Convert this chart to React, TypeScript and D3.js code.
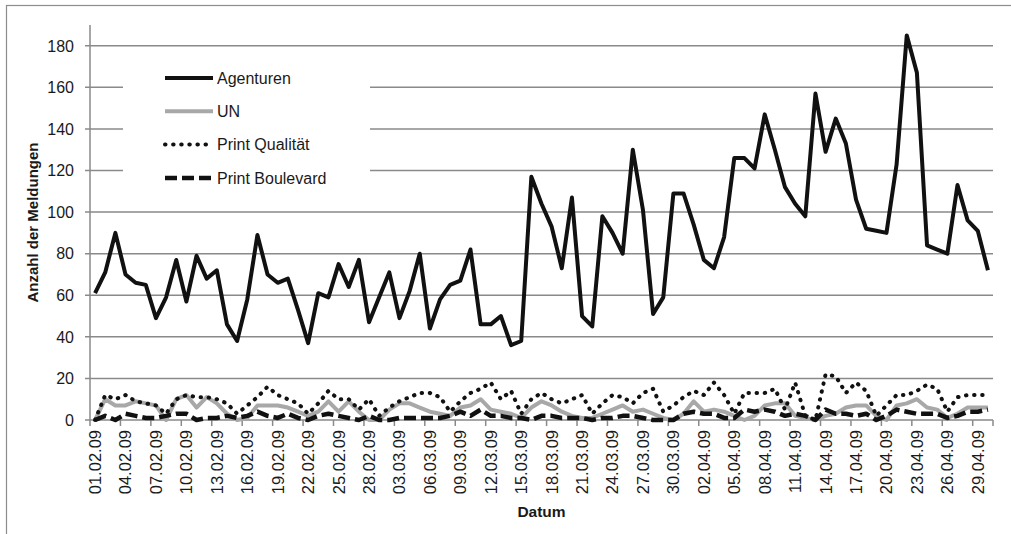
import React, { useEffect, useRef } from "react";
import * as d3 from "d3";

// Daily values 01.02.09 - 30.04.09 (89 days)
const startDate = new Date(2009, 1, 1);
const endDate = new Date(2009, 4, 1);

const agenturen = [
  61, 71, 90, 70, 66, 65, 49, 59, 77, 57, 79, 68, 72, 46, 38, 58, 89, 70, 66, 68,
  53, 37, 61, 59, 75, 64, 77, 47, 59, 71, 49, 62, 80, 44, 58, 65, 67, 82, 46, 46,
  50, 36, 38, 117, 104, 93, 73, 107, 50, 45, 98, 90, 80, 130, 101, 51, 59, 109, 109, 94,
  77, 73, 88, 126, 126, 121, 147, 130, 112, 104, 98, 157, 129, 145, 133, 106, 92, 91, 90, 123,
  185, 167, 84, 82, 80, 113, 96, 91, 72,
];

const un = [
  0, 10, 7, 7, 9, 8, 7, 0, 10, 12, 6, 11, 8, 3, 0,
  1, 7, 7, 7, 6, 4, 2, 4, 9, 4, 9, 4, 0, 0,
  5, 8, 8, 6, 4, 3, 2, 6, 7, 10, 5, 4, 3, 1, 6,
  9, 7, 4, 2, 1, 1, 3, 5, 7, 4, 5, 3, 1, 0, 3, 9,
  4, 5, 4, 2, 0, 2, 7, 8, 8, 2, 1, 0, 2, 3,
  6, 7, 7, 2, 0, 7, 8, 10, 6, 5, 1, 3, 6, 6, 6,
];

const printQualitaet = [
  0, 12, 10, 12, 9, 8, 7, 3, 10, 12, 11, 11, 10, 8, 3,
  7, 11, 16, 12, 10, 8, 3, 8, 14, 10, 10, 5, 10, 2,
  6, 9, 11, 13, 13, 11, 4, 9, 13, 15, 18, 10, 14, 3, 10,
  13, 10, 8, 10, 12, 3, 8, 12, 11, 8, 13, 15, 4, 7, 11, 14,
  12, 18, 12, 3, 13, 13, 13, 15, 5, 18, 2, 0, 22, 21,
  13, 18, 14, 2, 7, 12, 12, 14, 17, 15, 4, 11, 12, 12, 12,
];

const printBoulevard = [
  0, 2, 0, 3, 2, 1, 1, 2, 3, 3, 0, 1, 1, 2, 1,
  2, 4, 2, 1, 3, 1, 0, 2, 3, 2, 1, 0, 2, 0,
  0, 1, 1, 1, 1, 1, 2, 4, 2, 5, 2, 2, 1, 1, 0,
  2, 2, 1, 1, 1, 0, 1, 1, 2, 2, 1, 0, 0, 0, 3, 4,
  3, 3, 1, 1, 5, 4, 5, 4, 2, 3, 2, 0, 5, 3,
  3, 2, 3, 0, 2, 5, 4, 3, 3, 3, 1, 2, 4, 4, 5,
];

const yTicks = [0, 20, 40, 60, 80, 100, 120, 140, 160, 180];

const xTickLabels = [
  "01.02.09", "04.02.09", "07.02.09", "10.02.09", "13.02.09", "16.02.09",
  "19.02.09", "22.02.09", "25.02.09", "28.02.09", "03.03.09", "06.03.09",
  "09.03.09", "12.03.09", "15.03.09", "18.03.09", "21.03.09", "24.03.09",
  "27.03.09", "30.03.09", "02.04.09", "05.04.09", "08.04.09", "11.04.09",
  "14.04.09", "17.04.09", "20.04.09", "23.04.09", "26.04.09", "29.04.09",
];

const seriesNames = ["Agenturen", "UN", "Print Qualität", "Print Boulevard"];

const FONT = "'Liberation Sans', Arial, sans-serif";

const App = () => {
  const ref = useRef<SVGSVGElement | null>(null);
  const width = 1011;
  const height = 534;
  const margin = { top: 25, right: 18, bottom: 114, left: 90 };

  useEffect(() => {
    drawGraph();
  }, []);

  const drawGraph = () => {
    const svg = d3.select(ref.current);
    svg.selectAll("*").remove();

    const fmt = d3.timeFormat("%d.%m.%y");
    const categories = d3.timeDay.range(startDate, endDate).map((d) => fmt(d));

    const x = d3.scalePoint<string>()
      .domain(categories)
      .range([margin.left, width - margin.right])
      .padding(0.5);
    const step = x.step();

    const y = d3.scaleLinear()
      .domain([0, 190])
      .range([height - margin.bottom, margin.top]);

    // outer frame
    svg.append("rect")
      .attr("x", 6.5).attr("y", 5.5)
      .attr("width", width + 20).attr("height", height + 20)
      .attr("fill", "white")
      .attr("stroke", "#8c8c8c")
      .attr("stroke-width", 1.2);

    // gridlines (with tick stubs to the left)
    svg.append("g")
      .selectAll("line")
      .data(yTicks.filter((t) => t > 0))
      .join("line")
      .attr("x1", margin.left - 5)
      .attr("x2", width - margin.right)
      .attr("y1", (d) => y(d))
      .attr("y2", (d) => y(d))
      .attr("stroke", "#8a8a8a")
      .attr("stroke-width", 1.5);

    // y axis
    svg.append("line")
      .attr("x1", margin.left).attr("x2", margin.left)
      .attr("y1", y(190)).attr("y2", y(0))
      .attr("stroke", "#8a8a8a").attr("stroke-width", 1.5);

    svg.append("g")
      .selectAll("text")
      .data(yTicks)
      .join("text")
      .attr("x", margin.left - 16)
      .attr("y", (d) => y(d))
      .attr("dy", "0.36em")
      .attr("text-anchor", "end")
      .attr("font-family", FONT)
      .attr("font-size", 16)
      .attr("fill", "#1a1a1a")
      .text((d) => d);

    // x axis
    svg.append("line")
      .attr("x1", margin.left - 5).attr("x2", width - margin.right)
      .attr("y1", y(0)).attr("y2", y(0))
      .attr("stroke", "#8a8a8a").attr("stroke-width", 1.5);

    const tickIdx = d3.range(0, categories.length, 3);
    const tickXs = tickIdx.map((i) => (x(categories[i]) as number) - step / 2);
    tickXs.push(width - margin.right);
    svg.append("g")
      .selectAll("line")
      .data(tickXs)
      .join("line")
      .attr("x1", (d) => d).attr("x2", (d) => d)
      .attr("y1", y(0)).attr("y2", y(0) + 6)
      .attr("stroke", "#8a8a8a").attr("stroke-width", 1.5);

    svg.append("g")
      .selectAll("text")
      .data(tickIdx)
      .join("text")
      .attr("transform", (i) => `translate(${x(categories[i])},${y(0) + 10}) rotate(-90)`)
      .attr("dy", "0.36em")
      .attr("text-anchor", "end")
      .attr("font-family", FONT)
      .attr("font-size", 16.5)
      .attr("fill", "#1a1a1a")
      .text((i, k) => xTickLabels[k]);

    // axis titles
    svg.append("text")
      .attr("transform", `translate(38,${(y(0) + y(190)) / 2}) rotate(-90)`)
      .attr("text-anchor", "middle")
      .attr("font-family", FONT)
      .attr("font-size", 15)
      .attr("font-weight", "bold")
      .attr("fill", "#1a1a1a")
      .text("Anzahl der Meldungen");

    svg.append("text")
      .attr("x", (margin.left + width - margin.right) / 2)
      .attr("y", 517)
      .attr("text-anchor", "middle")
      .attr("font-family", FONT)
      .attr("font-size", 15.5)
      .attr("font-weight", "bold")
      .attr("fill", "#1a1a1a")
      .text("Datum");

    // series
    const styles = [
      { data: agenturen, color: "#111", width: 4, dash: null, cap: "butt" },
      { data: un, color: "#a8a8a8", width: 4, dash: null, cap: "butt" },
      { data: printQualitaet, color: "#111", width: 4, dash: "0.5 7.6", cap: "round" },
      { data: printBoulevard, color: "#111", width: 4.5, dash: "12 5", cap: "butt" },
    ];

    const line = d3.line<number>()
      .x((d, i) => x(categories[i]) as number)
      .y((d) => y(d));

    styles.forEach((s) => {
      svg.append("path")
        .datum(s.data)
        .attr("d", line)
        .attr("fill", "none")
        .attr("stroke", s.color)
        .attr("stroke-width", s.width)
        .attr("stroke-linejoin", "round")
        .attr("stroke-linecap", s.cap)
        .attr("stroke-dasharray", s.dash);
    });

    // legend
    svg.append("rect")
      .attr("x", 123).attr("y", 52)
      .attr("width", 247).attr("height", 150)
      .attr("fill", "white");

    const legend = svg.append("g")
      .selectAll("g")
      .data(seriesNames)
      .join("g")
      .attr("transform", (d, i) => `translate(165,${78 + i * 33.3})`);

    legend.append("line")
      .attr("x1", 0).attr("x2", 48)
      .attr("y1", 0).attr("y2", 0)
      .attr("stroke", (d, i) => styles[i].color)
      .attr("stroke-width", (d, i) => styles[i].width)
      .attr("stroke-linecap", (d, i) => styles[i].cap)
      .attr("stroke-dasharray", (d, i) => styles[i].dash);

    legend.append("text")
      .attr("x", 52)
      .attr("dy", "0.36em")
      .attr("font-family", FONT)
      .attr("font-size", 16)
      .attr("fill", "#1a1a1a")
      .text((d) => d);
  };

  return (
    <svg
      ref={ref}
      width={width}
      height={height}
      style={{ position: "absolute", left: 0, top: 0, background: "white" }}
    />
  );
};

export default App;
